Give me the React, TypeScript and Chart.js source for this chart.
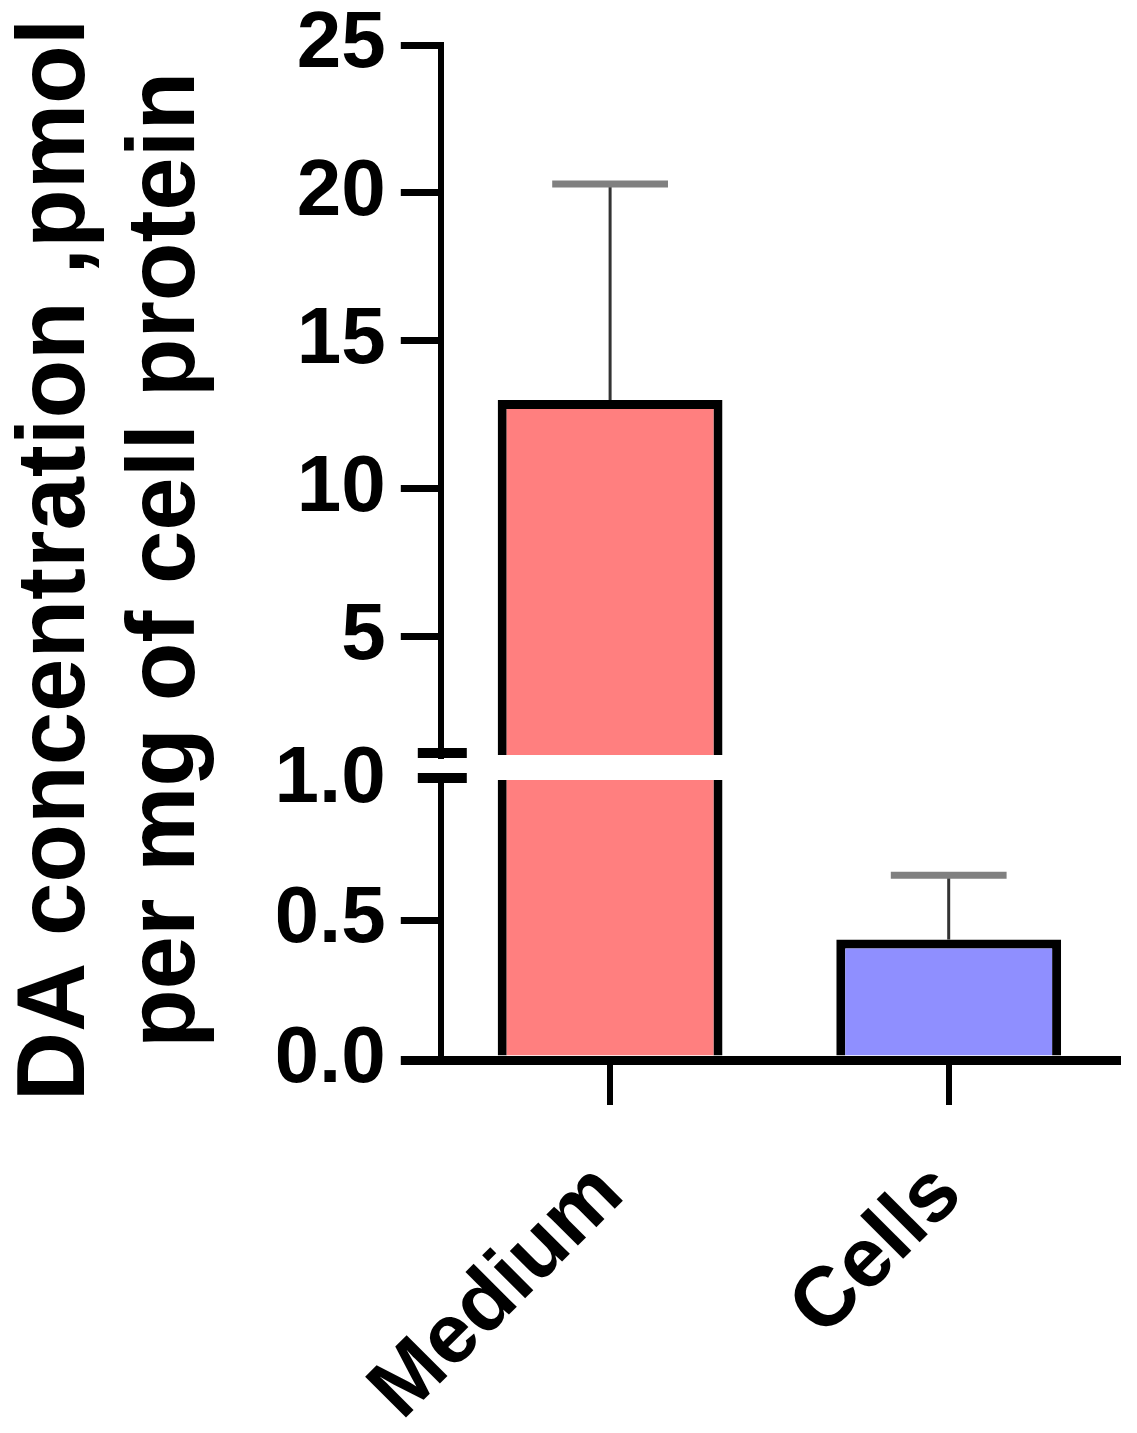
import React, { useEffect, useRef } from 'react';
import { Chart, registerables } from 'chart.js';

Chart.register(...registerables);

// ---- data ----
const CATEGORIES = ['Medium', 'Cells'];
const MEANS = [13.0, 0.43];
const ERRORS = [7.3, 0.23];
const COLORS = ['#FF7F7F', '#8F8FFF'];
const LOWER_TICKS = [0, 0.5, 1.0];
const UPPER_TICKS = [5, 10, 15, 20, 25];
const BREAK_AT = 1.0;
const Y_MAX = 25;
const Y_TITLE = ['DA concentration ,pmol', 'per mg of cell protein'];

const FONT = 'Liberation Sans';
const BW = 9;

const errorBarPlugin = {
  id: 'errorBars',
  afterDatasetsDraw(chart: any) {
    const meta = chart.getDatasetMeta(0);
    const { ctx } = chart;
    const hi = chart.scales.yHigh;
    const lo = chart.scales.yLow;
    ctx.save();
    meta.data.forEach((bar: any, i: number) => {
      const top = MEANS[i] + ERRORS[i];
      const sMean = MEANS[i] > BREAK_AT ? hi : lo;
      const sTop = top > BREAK_AT ? hi : lo;
      const y0 = sMean.getPixelForValue(MEANS[i]);
      const y1 = sTop.getPixelForValue(top);
      const x = bar.x;
      const capW = bar.width * 0.515;
      ctx.strokeStyle = '#333333';
      ctx.lineWidth = 3;
      ctx.beginPath();
      ctx.moveTo(x, y0);
      ctx.lineTo(x, y1);
      ctx.stroke();
      ctx.strokeStyle = '#808080';
      ctx.lineWidth = 7;
      ctx.beginPath();
      ctx.moveTo(x - capW / 2, y1);
      ctx.lineTo(x + capW / 2, y1);
      ctx.stroke();
    });
    ctx.restore();
  },
};

const axisBreakPlugin = {
  id: 'axisBreak',
  afterLayout(chart: any) {
    // let the two-line axis title run a little beyond the plot height (no squeezing)
    const t = chart.titleBlock;
    const area = chart.chartArea;
    if (t && area) {
      t.top = area.top - 29;
      t.bottom = area.bottom + 44;
    }
  },
  afterDraw(chart: any) {
    const { ctx, chartArea } = chart;
    const hi = chart.scales.yHigh;
    const lo = chart.scales.yLow;
    ctx.save();
    ctx.strokeStyle = '#000';
    ctx.lineWidth = 10;
    [hi.bottom - 2, lo.top - 2].forEach((y: number) => {
      ctx.beginPath();
      ctx.moveTo(chartArea.left - 23, y);
      ctx.lineTo(chartArea.left + 26, y);
      ctx.stroke();
    });
    ctx.restore();
  },
};

export default function App() {
  const ref = useRef<HTMLCanvasElement>(null);

  useEffect(() => {
    if (!ref.current) return;
    const lowData = MEANS.map((v) => Math.min(v, BREAK_AT));
    const highData = MEANS.map((v) => (v > BREAK_AT ? [BREAK_AT, v] : null));

    const yTickFont = { family: FONT, size: 80, weight: 'bold' as const, lineHeight: 1 };
    const fitY = (scale: any) => {
      scale.width = 163;
      scale.paddingTop = 0;
      scale.paddingBottom = 0;
    };

    const chart = new Chart(ref.current, {
      type: 'bar',
      data: {
        labels: CATEGORIES,
        datasets: [
          {
            data: lowData,
            yAxisID: 'yLow',
            backgroundColor: COLORS,
            borderColor: '#000',
            borderSkipped: false,
            borderWidth: ((c: any) => ({
              left: BW,
              right: BW,
              bottom: 0,
              top: MEANS[c.dataIndex] > BREAK_AT ? 0 : BW,
            })) as any,
            grouped: false,
            barPercentage: 0.664,
            categoryPercentage: 1,
          },
          {
            data: highData as any,
            yAxisID: 'yHigh',
            backgroundColor: COLORS,
            borderColor: '#000',
            borderSkipped: false,
            borderWidth: { left: BW, right: BW, bottom: 0, top: BW } as any,
            grouped: false,
            barPercentage: 0.664,
            categoryPercentage: 1,
          },
        ],
      },
      options: {
        responsive: false,
        animation: false,
        layout: { padding: { left: 0, top: 45, right: 19, bottom: 0 } },
        plugins: {
          legend: { display: false },
          tooltip: { enabled: false },
          title: {
            display: true,
            position: 'left',
            fullSize: false,
            text: Y_TITLE,
            color: '#000',
            font: { family: FONT, size: 96, weight: 'bold', lineHeight: 1.15 },
            padding: { top: 2, bottom: 55 },
          },
        },
        scales: {
          x: {
            type: 'category',
            offset: true,
            afterFit: (scale: any) => {
              scale.height = 373;
            },
            grid: {
              display: true,
              drawOnChartArea: false,
              drawTicks: true,
              tickLength: 45,
              lineWidth: 6,
              color: '#000',
              offset: false,
            },
            border: { display: true, color: '#000', width: 9, z: 1 },
            ticks: {
              color: '#000',
              font: { family: FONT, size: 84, weight: 'bold' },
              minRotation: 45,
              maxRotation: 45,
              autoSkip: false,
              padding: 40,
            },
          },
          yHigh: {
            type: 'linear',
            position: 'left',
            stack: 'y',
            stackWeight: 710,
            weight: 3,
            min: BREAK_AT,
            max: Y_MAX,
            afterBuildTicks: (scale: any) => {
              scale.ticks = UPPER_TICKS.map((v) => ({ value: v }));
            },
            afterFit: fitY,
            grid: {
              drawOnChartArea: false,
              tickLength: 40,
              lineWidth: 7,
              color: '#000',
            },
            border: { display: true, color: '#000', width: 6 },
            ticks: {
              color: '#000',
              font: yTickFont,
              padding: 15,
              autoSkip: false,
              callback: (v: any) => String(v),
            },
          },
          yGap: {
            type: 'linear',
            position: 'left',
            stack: 'y',
            stackWeight: 25,
            weight: 2,
            min: 0,
            max: 1,
            display: true,
            afterFit: fitY,
            grid: { display: false, drawTicks: false },
            border: { display: false },
            ticks: { display: false },
          },
          yLow: {
            type: 'linear',
            position: 'left',
            stack: 'y',
            stackWeight: 280,
            weight: 1,
            min: 0,
            max: BREAK_AT,
            afterBuildTicks: (scale: any) => {
              scale.ticks = LOWER_TICKS.map((v) => ({ value: v }));
            },
            afterFit: fitY,
            grid: {
              drawOnChartArea: false,
              tickLength: 40,
              lineWidth: (c: any) => (c.tick && c.tick.value === 0 ? 9 : 7),
              color: (c: any) =>
                c.tick && c.tick.value === BREAK_AT ? 'rgba(0,0,0,0)' : '#000',
            },
            border: { display: true, color: '#000', width: 6 },
            ticks: {
              color: '#000',
              font: yTickFont,
              padding: 15,
              autoSkip: false,
              callback: (v: any) => Number(v).toFixed(1),
            },
          },
        },
      } as any,
      plugins: [errorBarPlugin, axisBreakPlugin],
    });

    return () => chart.destroy();
  }, []);

  return (
    <div style={{ position: 'absolute', left: 0, top: 0, width: 1137, height: 1433, background: '#fff' }}>
      <canvas ref={ref} width={1137} height={1433} style={{ display: 'block' }} />
    </div>
  );
}
